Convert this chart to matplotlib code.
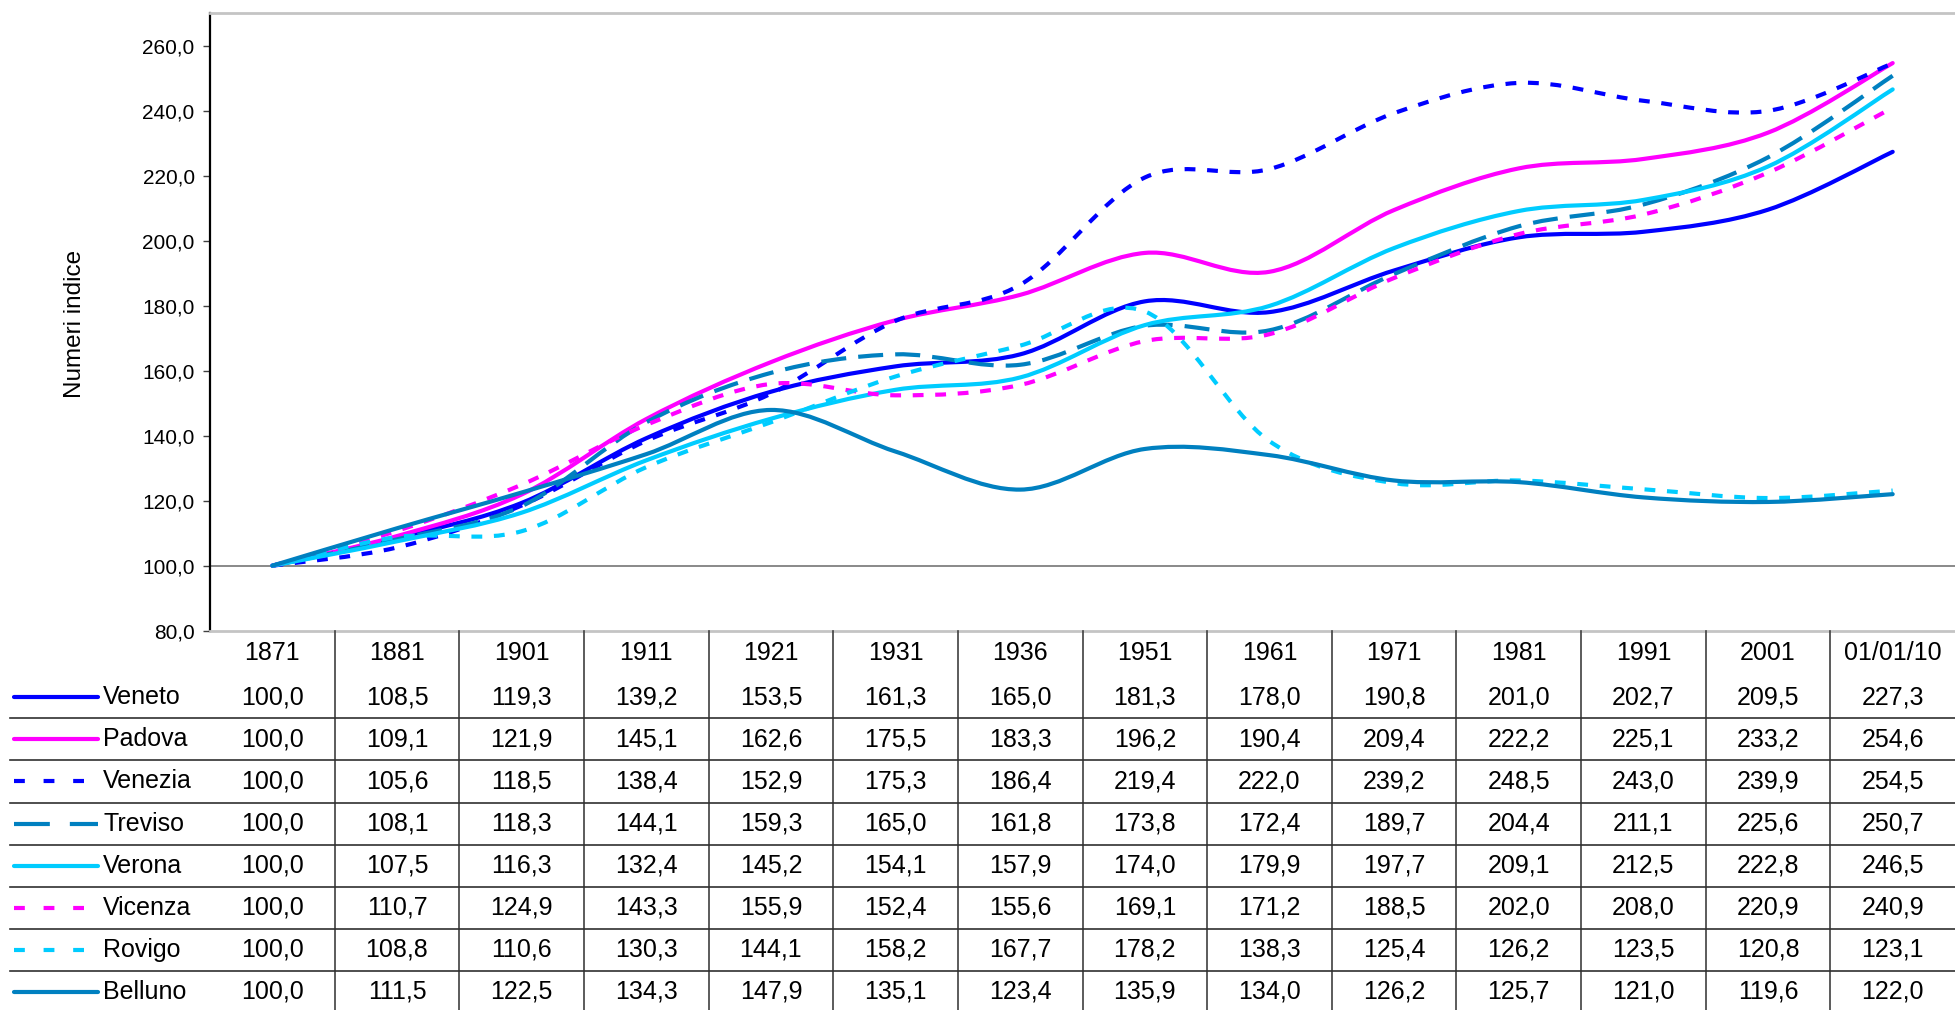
import numpy as np
import matplotlib.pyplot as plt
from matplotlib.path import Path
from matplotlib.patches import PathPatch
from matplotlib.ticker import FuncFormatter

plt.rcParams['font.family'] = ['Liberation Sans', 'DejaVu Sans']

years = ['1871', '1881', '1901', '1911', '1921', '1931', '1936',
         '1951', '1961', '1971', '1981', '1991', '2001', '01/01/10']

veneto = [100.0, 108.5, 119.3, 139.2, 153.5, 161.3, 165.0, 181.3, 178.0, 190.8, 201.0, 202.7, 209.5, 227.3]
padova = [100.0, 109.1, 121.9, 145.1, 162.6, 175.5, 183.3, 196.2, 190.4, 209.4, 222.2, 225.1, 233.2, 254.6]
venezia = [100.0, 105.6, 118.5, 138.4, 152.9, 175.3, 186.4, 219.4, 222.0, 239.2, 248.5, 243.0, 239.9, 254.5]
treviso = [100.0, 108.1, 118.3, 144.1, 159.3, 165.0, 161.8, 173.8, 172.4, 189.7, 204.4, 211.1, 225.6, 250.7]
verona = [100.0, 107.5, 116.3, 132.4, 145.2, 154.1, 157.9, 174.0, 179.9, 197.7, 209.1, 212.5, 222.8, 246.5]
vicenza = [100.0, 110.7, 124.9, 143.3, 155.9, 152.4, 155.6, 169.1, 171.2, 188.5, 202.0, 208.0, 220.9, 240.9]
rovigo = [100.0, 108.8, 110.6, 130.3, 144.1, 158.2, 167.7, 178.2, 138.3, 125.4, 126.2, 123.5, 120.8, 123.1]
belluno = [100.0, 111.5, 122.5, 134.3, 147.9, 135.1, 123.4, 135.9, 134.0, 126.2, 125.7, 121.0, 119.6, 122.0]

names = ['Veneto', 'Padova', 'Venezia', 'Treviso', 'Verona', 'Vicenza', 'Rovigo', 'Belluno']
series = [veneto, padova, venezia, treviso, verona, vicenza, rovigo, belluno]

BLUE = '#0000FF'
MAGENTA = '#FF00FF'
STEEL = '#0080C0'
CYAN = '#00CCFF'
colors = [BLUE, MAGENTA, BLUE, STEEL, CYAN, MAGENTA, CYAN, STEEL]

# dash patterns (in multiples of line width): None = solid
SHORT = (2.6, 2.8)
LONG = (6.0, 2.9)
KEY_SHORT = (2.6, 4.5)
KEY_LONG = (8.6, 4.8)
styles = [None, None, 'short', 'long', None, 'short', 'short', None]


def comma(v, pos=None):
    return f'{v:.1f}'.replace('.', ',')


def smooth_path(xs, ys):
    """Excel-like smoothed line: Catmull-Rom segments as cubic Beziers."""
    p = np.column_stack([xs, ys]).astype(float)
    n = len(p)
    verts = [p[0]]
    codes = [Path.MOVETO]
    for i in range(n - 1):
        p0 = p[max(i - 1, 0)]
        p1 = p[i]
        p2 = p[i + 1]
        p3 = p[min(i + 2, n - 1)]
        verts += [p1 + (p2 - p0) / 6, p2 - (p3 - p1) / 6, p2]
        codes += [Path.CURVE4] * 3
    return Path(verts, codes)


W, H = 1955, 1010
fig = plt.figure(figsize=(W / 100, H / 100), dpi=100)

# plot area in pixels
x0, x1 = 210, 1955
ytop, ybot = 13, 630.7
ax = fig.add_axes([x0 / W, (H - ybot) / H, (x1 - x0) / W, (ybot - ytop) / H])

x = np.arange(len(years))
lw = 3.0
for vals, col, st in zip(series, colors, styles):
    patch = PathPatch(smooth_path(x, vals), fill=False, edgecolor=col, lw=lw,
                      joinstyle='round')
    if st is None:
        patch.set_capstyle('round')
    else:
        patch.set_linestyle((0, SHORT if st == 'short' else LONG))
        patch.set_capstyle('butt')
    ax.add_patch(patch)

ax.set_xlim(-0.5, len(years) - 0.5)
ax.set_ylim(80, 270)
ax.set_yticks(np.arange(80, 261, 20))
ax.yaxis.set_major_formatter(FuncFormatter(comma))
ax.set_xticks([])
ax.axhline(100, color='#808080', lw=1.3, zorder=0)
ax.tick_params(axis='y', labelsize=15, length=5, width=1, color='#404040', pad=6)
for side in ['top', 'bottom']:
    ax.spines[side].set_color('#C4C4C4')
    ax.spines[side].set_linewidth(2)
ax.spines['right'].set_visible(False)
ax.spines['left'].set_color('black')
ax.spines['left'].set_linewidth(1.6)

fig.text(75 / W, 1 - 324 / H, 'Numeri indice', rotation=90, ha='center', va='center',
         fontsize=17.5)

# data table below the plot
row_h = 42.1
hh = 45.5 / row_h
tx = fig.add_axes([x0 / W, 0, (x1 - x0) / W, (H - ybot) / H])
tx.set_xlim(-0.5, len(years) - 0.5)
tx.set_ylim((H - ybot) / row_h, 0)
tx.axis('off')

px = (x1 - x0) / len(years)
left_edge = -0.5 + (10 - x0) / px
key_a = -0.5 + (14 - x0) / px
key_b = -0.5 + (98 - x0) / px
lab_x = -0.5 + (103 - x0) / px

for k in range(len(years) - 1):
    tx.plot([k + 0.5, k + 0.5], [0, 20], color='#404040', lw=1.2, clip_on=False)
for i in range(1, len(names)):
    tx.plot([left_edge, len(years) - 0.5], [hh + i, hh + i], color='#303030', lw=1.2,
            clip_on=False)

for j, yr in enumerate(years):
    tx.text(j, 0.52, yr, ha='center', va='center', fontsize=18)

for i, (nm, vals, col, st) in enumerate(zip(names, series, colors, styles)):
    yc = hh + i + 0.5
    ln, = tx.plot([key_a, key_b], [yc, yc], color=col, lw=lw, clip_on=False)
    if st is None:
        ln.set_solid_capstyle('round')
    else:
        ln.set_dashes(KEY_SHORT if st == 'short' else KEY_LONG)
        ln.set_dash_capstyle('butt')
    tx.text(lab_x, yc, nm, ha='left', va='center', fontsize=18)
    for j, v in enumerate(vals):
        tx.text(j, yc, comma(v), ha='center', va='center', fontsize=18)

fig.savefig('out.png', dpi=100)
